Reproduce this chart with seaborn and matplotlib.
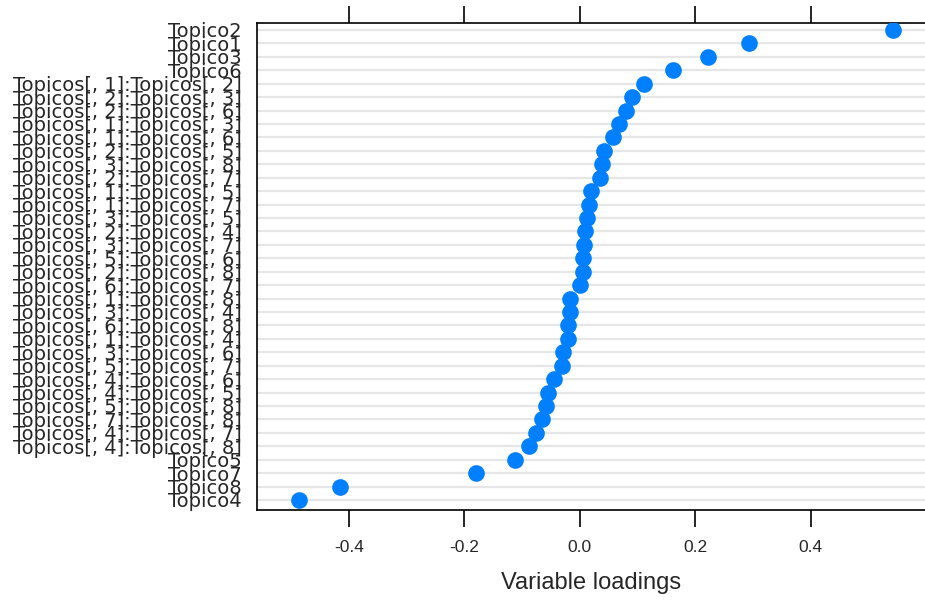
import matplotlib
matplotlib.use("Agg")
import matplotlib.pyplot as plt
import seaborn as sns
import pandas as pd

# Variables, top to bottom (sorted by loading)
variables = [
    "Topico2", "Topico1", "Topico3", "Topico6",
    "Topicos[, 1]:Topicos[, 2]", "Topicos[, 2]:Topicos[, 3]",
    "Topicos[, 2]:Topicos[, 6]", "Topicos[, 1]:Topicos[, 3]",
    "Topicos[, 1]:Topicos[, 6]", "Topicos[, 2]:Topicos[, 5]",
    "Topicos[, 3]:Topicos[, 8]", "Topicos[, 2]:Topicos[, 7]",
    "Topicos[, 1]:Topicos[, 5]", "Topicos[, 1]:Topicos[, 7]",
    "Topicos[, 3]:Topicos[, 5]", "Topicos[, 2]:Topicos[, 4]",
    "Topicos[, 3]:Topicos[, 7]", "Topicos[, 5]:Topicos[, 6]",
    "Topicos[, 2]:Topicos[, 8]", "Topicos[, 6]:Topicos[, 7]",
    "Topicos[, 1]:Topicos[, 8]", "Topicos[, 3]:Topicos[, 4]",
    "Topicos[, 6]:Topicos[, 8]", "Topicos[, 1]:Topicos[, 4]",
    "Topicos[, 3]:Topicos[, 6]", "Topicos[, 5]:Topicos[, 7]",
    "Topicos[, 4]:Topicos[, 6]", "Topicos[, 4]:Topicos[, 5]",
    "Topicos[, 5]:Topicos[, 8]", "Topicos[, 7]:Topicos[, 8]",
    "Topicos[, 4]:Topicos[, 7]", "Topicos[, 4]:Topicos[, 8]",
    "Topico5", "Topico7", "Topico8", "Topico4",
]
loadings = [
    0.542, 0.293, 0.222, 0.161,
    0.111, 0.090, 0.081, 0.068, 0.057, 0.042, 0.039, 0.036,
    0.019, 0.016, 0.013, 0.010, 0.007, 0.006, 0.006, 0.000,
    -0.017, -0.017, -0.020, -0.020, -0.029, -0.031, -0.045, -0.055,
    -0.058, -0.065, -0.075, -0.088,
    -0.1125, -0.179, -0.416, -0.487,
]
x_ticks = [-0.4, -0.2, 0.0, 0.2, 0.4, 0.6]
x_ticklabels = ["-0.4", "-0.2", "0.0", "0.2", "0.4", ""]

df = pd.DataFrame({"variable": variables, "loading": loadings})

sns.set_style("white")
plt.rcParams["font.family"] = ["Liberation Sans", "DejaVu Sans"]

W, H = 925, 600
fig = plt.figure(figsize=(W / 100, H / 100), dpi=100)
ax = fig.add_axes([257 / W, 1 - 510 / H, (926 - 257) / W, (510 - 23) / H])

sns.stripplot(data=df, x="loading", y="variable", order=variables,
              jitter=False, color="#0080FF", size=12, linewidth=0,
              ax=ax, zorder=3)

n = len(variables)
for i in range(n):
    ax.axhline(i, color="#e6e6e6", lw=1.6, zorder=1)

ax.set_xlim(-0.559, 0.6)
ax.set_ylim(n - 1 + 0.75, -0.52)

ax.set_xticks(x_ticks)
ax.set_xticklabels(x_ticklabels, fontsize=12.5)
ax.tick_params(axis="x", which="both", direction="out", length=12.5,
               width=1.2, color="black", top=True, bottom=True,
               labeltop=False, labelbottom=True, pad=9)
ax.tick_params(axis="y", length=0, pad=11)
for lbl in ax.get_yticklabels():
    lbl.set_fontsize(14)
    lbl.set_family(["DejaVu Sans"])

ax.set_xlabel("Variable loadings", fontsize=17, labelpad=12)
ax.set_ylabel("")
for s in ax.spines.values():
    s.set_visible(True)
    s.set_color("black")
    s.set_linewidth(1.2)

fig.savefig("out.png", dpi=100)
